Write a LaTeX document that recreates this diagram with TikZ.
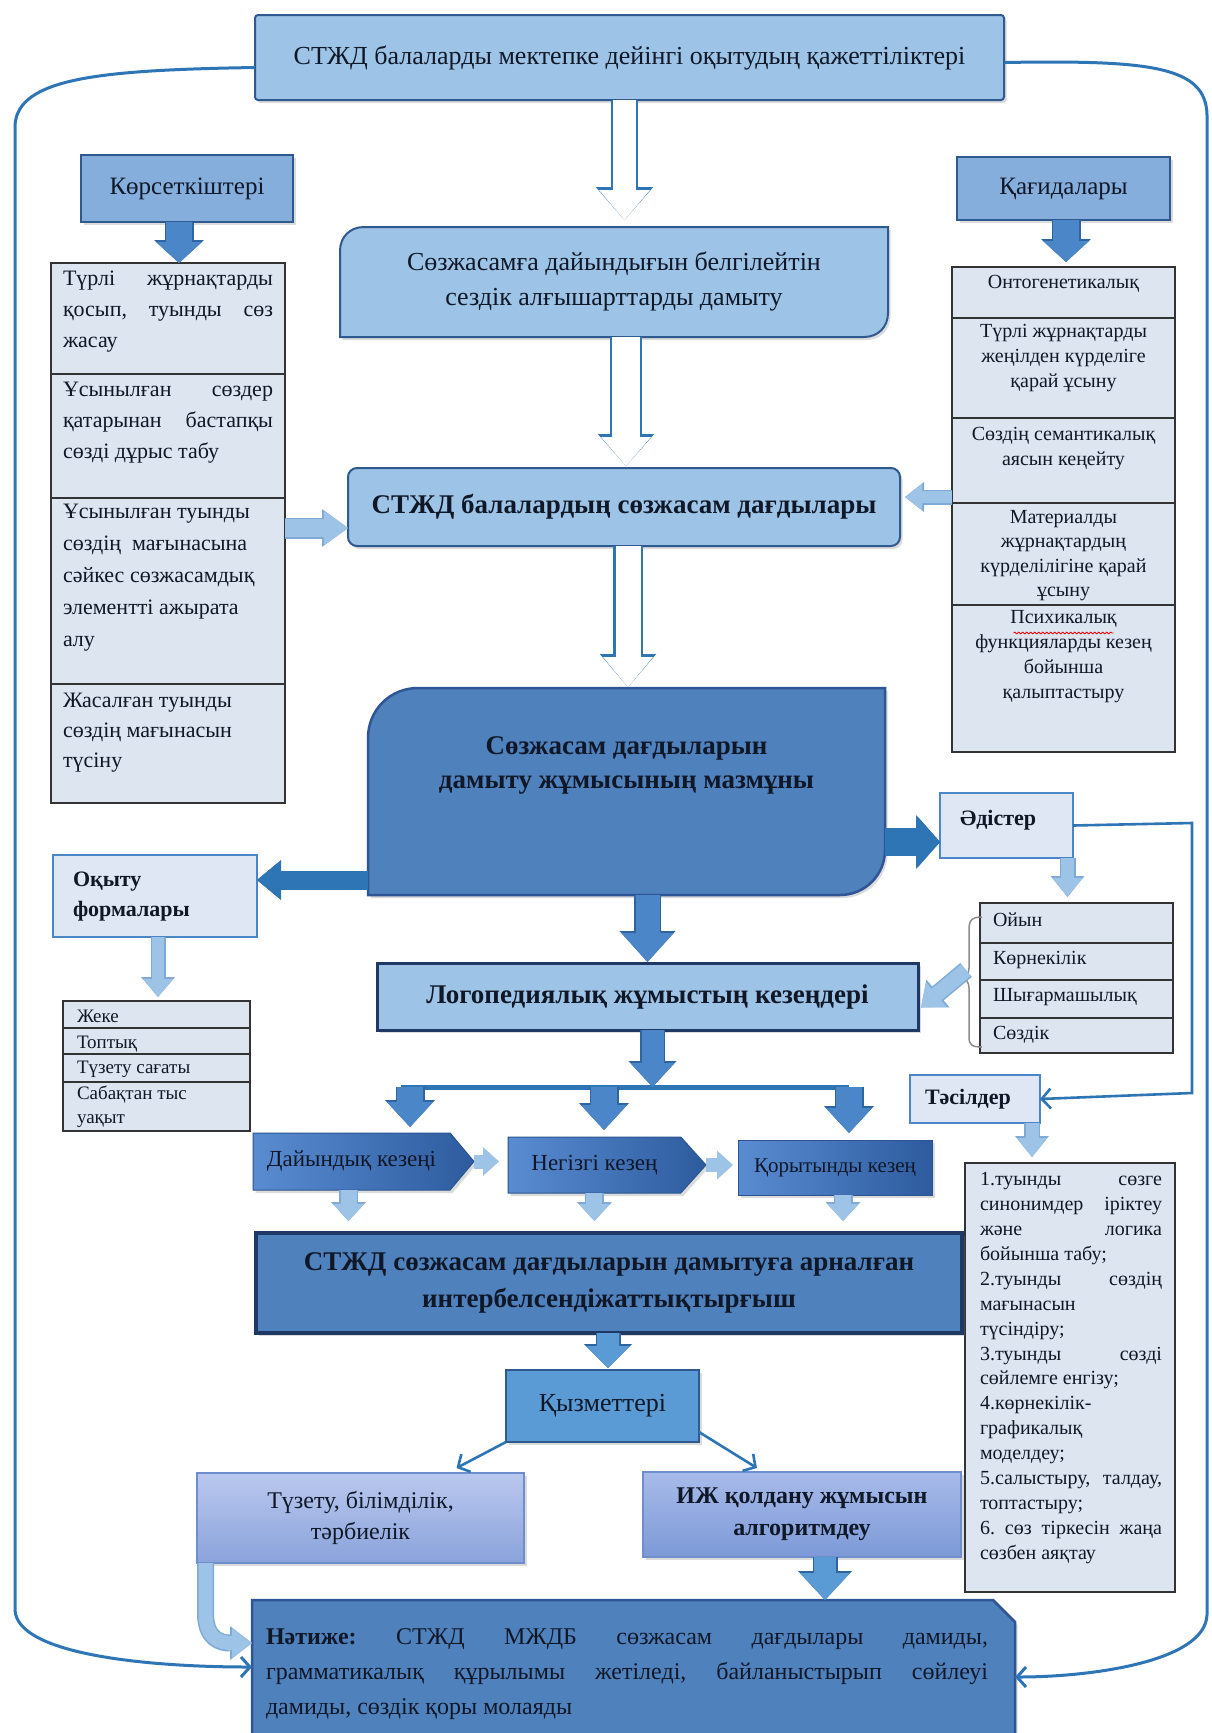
\documentclass[tikz,border=0pt]{standalone}
\usepackage{fontspec}
\setmainfont{Liberation Serif}
\usetikzlibrary{arrows.meta,shapes.symbols,shadows,calc,decorations.pathmorphing}
\definecolor{cTop}{HTML}{9DC3E6}
\definecolor{cTopB}{HTML}{2F5A8F}
\definecolor{cLab}{HTML}{85AEDD}
\definecolor{cList}{HTML}{DCE5F0}
\definecolor{cPale}{HTML}{DEE7F3}
\definecolor{cPaleB}{HTML}{4A86C8}
\definecolor{cMain}{HTML}{4F81BD}
\definecolor{cMainB}{HTML}{2F5597}
\definecolor{cMed}{HTML}{4A86C8}
\definecolor{cMedB}{HTML}{2E64A0}
\definecolor{cLight}{HTML}{9DC3E6}
\definecolor{cLightB}{HTML}{7FAAD6}
\definecolor{cLine}{HTML}{2E75B6}
\definecolor{cDark}{HTML}{1F3864}
\definecolor{cTxt}{HTML}{101828}
\definecolor{cKyz}{HTML}{5B9BD5}
\definecolor{stL}{HTML}{5A8CD2}
\definecolor{stR}{HTML}{2D5B9E}
\definecolor{stB}{HTML}{2A5590}
\definecolor{tzT}{HTML}{BAC8EE}
\definecolor{tzB}{HTML}{8AA3DB}
\definecolor{tzD}{HTML}{6F8FCC}
\definecolor{izT}{HTML}{A8BBEA}
\definecolor{izB}{HTML}{7C99D6}
\newcommand{\myfs}[2]{\fontsize{#1}{#2}\selectfont}
\newcommand{\jl}[1]{\hbox to 210pt{#1}}
\newcommand{\jt}[1]{\hbox to 182pt{#1}}
\newcommand{\jr}[1]{\hbox to 722pt{#1}}
\newcommand{\blkarrow}[7]{%
 \pgfmathsetlengthmacro{\baA}{#3+3pt}%
 \pgfmathsetlengthmacro{\baB}{#4+4pt}%
 \pgfmathsetlengthmacro{\baC}{#5+2pt}%
 \draw[draw=#2,line width=\baA,-{Triangle[width=\baB,length=\baC,line width=0pt]}] #6 -- #7;
 \draw[draw=#1,line width=#3,-{Triangle[width=#4,length=#5,line width=0pt]}] #6 -- #7;}
\newcommand{\hollowarrow}[5]{%
 \pgfmathsetlengthmacro{\baA}{#1+4.5pt}%
 \pgfmathsetlengthmacro{\baB}{#2+6.5pt}%
 \pgfmathsetlengthmacro{\baC}{#3+3pt}%
 \draw[draw=cLine,line width=\baA,-{Triangle[width=\baB,length=\baC,line width=0pt]}] #4 -- #5;
 \draw[draw=white,line width=#1,-{Triangle[width=#2,length=#3,line width=0pt]}] #4 -- #5;}
\begin{document}
\begin{tikzpicture}[x=1pt,y=-1pt,
  every node/.style={inner sep=0pt,outer sep=0pt,text=cTxt},
  shd/.style={drop shadow={opacity=0.28,shadow xshift=2.5pt,shadow yshift=-3pt}},
  box/.style={rectangle,anchor=north west},
  topbox/.style={box,fill=cTop,draw=cTopB,line width=2pt,shd},
  labbox/.style={box,fill=cLab,draw=cTopB,line width=2pt,shd},
  cell/.style={box,fill=cList,draw=black!80,line width=1.8pt},
  pale/.style={box,fill=cPale,draw=cPaleB,line width=2.4pt},
  ctext/.style={align=center,anchor=north},
  ltext/.style={align=left,anchor=north west},
  stage/.style={signal,signal to=east,left color=stL,right color=stR,draw=stB,line width=1pt,shd,anchor=west,font=\myfs{23}{26}},
  outer/.style={draw=cLine,line width=3pt,-{Straight Barb[length=9pt,width=20pt]}},
  thinarr/.style={draw=cLine,line width=2.6pt,-{Straight Barb[length=9pt,width=20pt]}},
]
\useasboundingbox (0,0) rectangle (1211,1733);
\clip (0,0) rectangle (1211,1733);
\fill[white] (0,0) rectangle (1211,1733);

% ---------- top ----------
\node[topbox,rounded corners=3pt,minimum width=749pt,minimum height=85pt,font=\myfs{26}{30}] (top) at (255,15) {СТЖД балаларды мектепке дейінгі оқытудың қажеттіліктері};
\node[labbox,minimum width=212pt,minimum height=67pt,font=\myfs{25}{28}] (kors) at (81,155) {Көрсеткіштері};
\node[labbox,minimum width=213pt,minimum height=63pt,font=\myfs{25}{28}] (kag) at (957,157) {Қағидалары};

% ---------- box 2 ----------
\node[box,minimum width=548pt,minimum height=110pt] (b2) at (340,227) {};
\filldraw[fill=cTop,draw=cTopB,line width=2pt,shd] ($(b2.north west)+(0,24)$) .. controls ($(b2.north west)+(0,10)$) and ($(b2.north west)+(10,0)$) .. ($(b2.north west)+(24,0)$) -- (b2.north east) -- ($(b2.south east)+(0,-24)$) .. controls ($(b2.south east)+(0,-10)$) and ($(b2.south east)+(-10,0)$) .. ($(b2.south east)+(-24,0)$) -- (b2.south west) -- cycle;
\node[font=\myfs{26}{35},align=center] (b2t) at ($(b2.center)+(0,-1)$) {Сөзжасамға дайындығын белгілейтін\\сездік алғышарттарды дамыту};

% ---------- box 3 ----------
\node[topbox,rounded corners=9pt,minimum width=552pt,minimum height=78pt,font=\bfseries\myfs{27}{30}] (b3) at (348,468) {СТЖД балалардың сөзжасам дағдылары};

% ---------- left list ----------
\node[cell,minimum width=234pt,minimum height=111pt] (L1) at (51,263) {};
\node[cell,minimum width=234pt,minimum height=124pt] (L2) at (51,374) {};
\node[cell,minimum width=234pt,minimum height=186pt] (L3) at (51,498) {};
\node[cell,minimum width=234pt,minimum height=119pt] (L4) at (51,684) {};
\node[ltext,font=\myfs{22}{31}] (L1t) at ($(L1.north west)+(12,8)$) {\jl{Түрлі\hfill жұрнақтарды}\\\jl{қосып,\hfill туынды\hfill сөз}\\жасау};
\node[ltext,font=\myfs{22}{31}] (L2t) at ($(L2.north west)+(12,8)$) {\jl{Ұсынылған\hfill сөздер}\\\jl{қатарынан\hfill бастапқы}\\сөзді дұрыс табу};
\node[ltext,font=\myfs{22}{32}] (L3t) at ($(L3.north west)+(12,6)$) {Ұсынылған туынды\\сөздің\ \ мағынасына\\сәйкес сөзжасамдық\\элементті ажырата\\алу};
\node[ltext,font=\myfs{22}{30}] (L4t) at ($(L4.north west)+(12,9)$) {Жасалған туынды\\сөздің мағынасын\\түсіну};

% ---------- right list ----------
\node[cell,minimum width=223pt,minimum height=51pt] (R1) at (952,267) {};
\node[cell,minimum width=223pt,minimum height=100pt] (R2) at (952,318) {};
\node[cell,minimum width=223pt,minimum height=85pt] (R3) at (952,418) {};
\node[cell,minimum width=223pt,minimum height=102pt] (R4) at (952,503) {};
\node[cell,minimum width=223pt,minimum height=147pt] (R5) at (952,605) {};
\node[ctext,font=\myfs{20}{25}] (R1t) at ($(R1.north)+(0,8)$) {Онтогенетикалық};
\node[ctext,font=\myfs{20}{25}] (R2t) at ($(R2.north)+(0,6)$) {Түрлі жұрнақтарды\\жеңілден күрделіге\\қарай ұсыну};
\node[ctext,font=\myfs{20}{25}] (R3t) at ($(R3.north)+(0,9)$) {Сөздің семантикалық\\аясын кеңейту};
\node[ctext,font=\myfs{20}{24.5}] (R4t) at ($(R4.north)+(0,7)$) {Материалды\\жұрнақтардың\\күрделілігіне қарай\\ұсыну};
\node[ctext,font=\myfs{20}{25}] (R5t) at ($(R5.north)+(0,5)$) {Психикалық\\функцияларды кезең\\бойынша\\қалыптастыру};
\draw[red,line width=0.8pt,decorate,decoration={snake,amplitude=0.9pt,segment length=4pt}] ($(R5t.north)+(-50,23)$) -- ($(R5t.north)+(50,23)$);

% ---------- main box ----------
\node[box,minimum width=517pt,minimum height=207pt] (mb) at (368,688) {};
\filldraw[fill=cMain,draw=cMainB,line width=2.5pt,shd] ($(mb.north west)+(0,50)$) .. controls ($(mb.north west)+(0,22)$) and ($(mb.north west)+(22,0)$) .. ($(mb.north west)+(50,0)$) -- (mb.north east) -- ($(mb.south east)+(0,-45)$) .. controls ($(mb.south east)+(0,-20)$) and ($(mb.south east)+(-20,0)$) .. ($(mb.south east)+(-45,0)$) -- (mb.south west) -- cycle;
\node[font=\bfseries\myfs{27}{34},align=center] (mbt) at ($(mb.north)+(0,77)$) {Сөзжасам дағдыларын\\дамыту жұмысының мазмұны};

% ---------- methods ----------
\node[pale,minimum width=133pt,minimum height=65pt] (ad) at (940,793) {};
\node[anchor=west,font=\bfseries\myfs{22}{26}] (adt) at ($(ad.west)+(20,-5)$) {Әдістер};
\node[cell,minimum width=193pt,minimum height=40pt] (M1) at (980,903) {};
\node[cell,minimum width=193pt,minimum height=37pt] (M2) at (980,943) {};
\node[cell,minimum width=193pt,minimum height=38pt] (M3) at (980,980) {};
\node[cell,minimum width=193pt,minimum height=35pt] (M4) at (980,1018) {};
\node[anchor=base west,font=\myfs{20}{25}] (M1t) at (993,926) {Ойын};
\node[anchor=base west,font=\myfs{20}{25}] (M2t) at (993,964) {Көрнекілік};
\node[anchor=base west,font=\myfs{20}{25}] (M3t) at (993,1001) {Шығармашылық};
\node[anchor=base west,font=\myfs{20}{25}] (M4t) at (993,1039) {Сөздік};
\draw[black!45,line width=1.5pt] (982,917) .. controls (972,917) and (969,920) .. (969,930) -- (969,968) .. controls (969,974) and (966,977) .. (962,978) .. controls (966,979) and (969,982) .. (969,988) -- (969,1037) .. controls (969,1045) and (972,1047) .. (982,1047);
\coordinate (brc) at (966,970);

% ---------- forms ----------
\node[pale,minimum width=204pt,minimum height=82pt] (ok) at (53,855) {};
\node[ltext,font=\bfseries\myfs{22}{30}] (okt) at (73,872) {Оқыту\\формалары};
\node[cell,minimum width=187pt,minimum height=27pt] (F1) at (63,1001) {};
\node[cell,minimum width=187pt,minimum height=26pt] (F2) at (63,1028) {};
\node[cell,minimum width=187pt,minimum height=28pt] (F3) at (63,1054) {};
\node[cell,minimum width=187pt,minimum height=49pt] (F4) at (63,1082) {};
\node[anchor=base west,font=\myfs{19}{24}] (F1t) at (77,1022) {Жеке};
\node[anchor=base west,font=\myfs{19}{24}] (F2t) at (77,1048) {Топтық};
\node[anchor=base west,font=\myfs{19}{24}] (F3t) at (77,1073) {Түзету сағаты};
\node[ltext,font=\myfs{19}{24}] (F4t) at (77,1086) {Сабақтан тыс\\уақыт};

% ---------- logoped ----------
\node[box,fill=cTop,draw=cDark,line width=3pt,shd,minimum width=541pt,minimum height=67pt,font=\bfseries\myfs{27}{30}] (logo) at (377,963) {Логопедиялық жұмыстың кезеңдері};

% ---------- stages ----------
\coordinate (barL) at (401,1087);
\coordinate (barM) at (604,1087);
\coordinate (barR) at (849,1087);
\draw[cLine,line width=5pt] (barL) -- (barR);
\node[stage,minimum width=221pt,minimum height=57pt,signal pointer angle=100] (s1) at (253,1161.5) {Дайындық кезеңі};
\node[stage,minimum width=198pt,minimum height=56pt,signal pointer angle=96] (s2) at (508,1165) {Негізгі кезең};
\node[box,left color=stL,right color=stR,draw=stB,line width=1pt,shd,minimum width=194pt,minimum height=55pt,font=\myfs{21}{24}] (s3) at (738,1140) {Қорытынды кезең};

% ---------- tasilder ----------
\node[pale,minimum width=130pt,minimum height=48pt] (ts) at (910,1075) {};
\node[anchor=west,font=\bfseries\myfs{22}{26}] (tst) at ($(ts.west)+(15,0)$) {Тәсілдер};
\node[cell,minimum width=210pt,minimum height=429pt] (T) at (965,1163) {};
\node[ltext,font=\myfs{20}{24.9}] (Tt) at (980,1172.5) {\jt{1.туынды\hfill сөзге}\\\jt{синонимдер\hfill іріктеу}\\\jt{және\hfill логика}\\бойынша табу;\\\jt{2.туынды\hfill сөздің}\\мағынасын\\түсіндіру;\\\jt{3.туынды\hfill сөзді}\\сөйлемге енгізу;\\4.көрнекілік-\\графикалық\\моделдеу;\\\jt{5.салыстыру,\hfill талдау,}\\топтастыру;\\\jt{6.\hfill сөз\hfill тіркесін\hfill жаңа}\\сөзбен аяқтау};

% ---------- interactive ----------
\node[box,fill=cMain,draw=cDark,line width=3.5pt,shd,minimum width=706pt,minimum height=100pt,font=\bfseries\myfs{27}{37},align=center] (ia) at (256,1233) {СТЖД сөзжасам дағдыларын дамытуға арналған\\интербелсендіжаттықтырғыш};

% ---------- functions ----------
\node[box,fill=cKyz,draw=cTopB,line width=2pt,shd,minimum width=193pt,minimum height=72pt,font=\myfs{26}{30}] (kyz) at (506,1370) {Қызметтері};
\node[box,top color=tzT,bottom color=tzB,draw=tzD,line width=1.5pt,shd,minimum width=327pt,minimum height=90pt,font=\myfs{24}{31},align=center] (tz) at (197,1473) {Түзету, білімділік,\\тәрбиелік};
\node[box,top color=izT,bottom color=izB,draw=tzD,line width=1.5pt,shd,minimum width=318pt,minimum height=85pt,font=\bfseries\myfs{24}{32},align=center] (iz) at (643,1472) {ИЖ қолдану жұмысын\\алгоритмдеу};

% ---------- result ----------
\node[box,minimum width=763pt,minimum height=140pt] (res) at (252,1600) {};
\filldraw[fill=cMain,draw=cMainB,line width=2.5pt,shd] (res.south west) -- (res.north west) -- ($(res.north east)+(-22,0)$) -- ($(res.north east)+(0,22)$) -- (res.south east) -- cycle;
\node[ltext,font=\myfs{24}{35}] (rest) at (266,1629) {\jr{\textbf{Нәтиже:}\hfill СТЖД\hfill МЖДБ\hfill сөзжасам\hfill дағдылары\hfill дамиды,}\\\jr{грамматикалық\hfill құрылымы\hfill жетіледі,\hfill байланыстырып\hfill сөйлеуі}\\дамиды, сөздік қоры молаяды};

% ---------- block arrows ----------
\hollowarrow{23pt}{51pt}{30pt}{($(top.south)+(-5,0)$)}{($(top.south |- b2.north)+(-5,-7)$)}
\hollowarrow{28pt}{50pt}{29pt}{($(b2.south)+(12,0)$)}{($(b2.south |- b3.north)+(12,-2)$)}
\hollowarrow{25pt}{50pt}{30pt}{($(b3.south)+(4,0)$)}{($(b3.south |- mb.north)+(4,-1)$)}
\blkarrow{cMed}{cMedB}{26pt}{46pt}{21pt}{($(kors.south)+(-8,0)$)}{($(kors.south |- L1.north)+(-8,0)$)}
\blkarrow{cMed}{cMedB}{26pt}{46pt}{21pt}{($(kag.south)+(2.5,0)$)}{($(kag.south |- R1.north)+(2.5,-5)$)}
\coordinate (yl) at (0,528);
\coordinate (yr) at (0,497);
\blkarrow{cLight}{cLightB}{18pt}{34pt}{24pt}{(L3.east |- yl)}{(b3.west |- yl)}
\blkarrow{cLight}{cLightB}{12pt}{26pt}{17pt}{(R3.west |- yr)}{($(b3.east |- yr)+(5,0)$)}
\coordinate (yo) at (0,880);
\coordinate (ya) at (0,842);
\blkarrow{cLine}{cLine}{16pt}{36pt}{22pt}{(mb.west |- yo)}{(ok.east |- yo)}
\blkarrow{cLine}{cLine}{25pt}{50pt}{22pt}{(mb.east |- ya)}{(ad.west |- ya)}
\blkarrow{cMed}{cMedB}{24pt}{52pt}{29pt}{($(mb.south)+(21,0)$)}{($(mb.south |- logo.north)+(21,-1)$)}
\blkarrow{cLight}{cLightB}{13pt}{30pt}{19pt}{($(ad.south)+(61,0)$)}{($(ad.south |- M1.north)+(61,-6)$)}
\blkarrow{cLight}{cLightB}{15pt}{32pt}{20pt}{(brc)}{($(logo.east)+(3,11)$)}
\blkarrow{cLight}{cLightB}{12pt}{30pt}{18pt}{($(ok.south)+(3,0)$)}{($(ok.south |- F1.north)+(3,-4)$)}
\blkarrow{cLight}{cLightB}{13pt}{30pt}{19pt}{($(ts.south)+(57,0)$)}{($(ts.south |- T.north)+(57,-6)$)}
\blkarrow{cMed}{cMedB}{22pt}{44pt}{24pt}{($(logo.south)+(5,0)$)}{($(logo.south |- barL)+(5,0)$)}
\blkarrow{cMed}{cMedB}{26pt}{46pt}{25pt}{($(barL)+(9,0)$)}{($(barL |- s1.north)+(9,-6)$)}
\blkarrow{cMed}{cMedB}{26pt}{46pt}{25pt}{(barM)}{($(barM |- s2.north)+(0,-7)$)}
\blkarrow{cMed}{cMedB}{26pt}{46pt}{25pt}{(barR)}{($(barR |- s3.north)+(0,-7)$)}
\blkarrow{cLight}{white}{14pt}{29pt}{16pt}{(s1.east)}{($(s2.west |- s1.east)+(-9,0)$)}
\blkarrow{cLight}{white}{14pt}{29pt}{16pt}{(s2.east)}{($(s3.west |- s2.east)+(-5,0)$)}
\blkarrow{cLight}{cLightB}{16pt}{31pt}{17pt}{($(s1.south)+(-3,0)$)}{($(s1.south |- ia.north)+(-3,-12)$)}
\blkarrow{cLight}{cLightB}{16pt}{31pt}{17pt}{(s2.south)}{($(s2.south |- ia.north)+(0,-12)$)}
\blkarrow{cLight}{cLightB}{16pt}{31pt}{17pt}{($(s3.south)+(8,0)$)}{($(s3.south |- ia.north)+(8,-12)$)}
\blkarrow{cKyz}{cMedB}{22pt}{44pt}{22pt}{($(ia.south)+(-1,0)$)}{($(ia.south |- kyz.north)+(-1,-2)$)}
\blkarrow{cKyz}{cMedB}{22pt}{50pt}{27pt}{($(iz.south)+(23,0)$)}{($(iz.south |- res.north)+(23,0)$)}
% curved light arrow from tz to result
\draw[draw=cLightB,line width=17pt,-{Triangle[width=34pt,length=22pt,line width=0pt]}] ($(tz.south)+(-155,0)$) -- ($(tz.south)+(-155,50)$) .. controls ($(tz.south)+(-155,76)$) and ($(tz.south)+(-140,80)$) .. ($(res.west)+(0,-27)$);
\draw[draw=cLight,line width=14pt,-{Triangle[width=30pt,length=20pt,line width=0pt]}] ($(tz.south)+(-155,0)$) -- ($(tz.south)+(-155,50)$) .. controls ($(tz.south)+(-155,76)$) and ($(tz.south)+(-140,80)$) .. ($(res.west)+(0,-27)$);

% ---------- thin arrows ----------
\draw[thinarr] (ad.east) -- (1192,823) -- (1192,1093) -- (ts.east);
\draw[thinarr] (kyz.south west) -- ($(tz.north)+(96,-5)$);
\draw[thinarr] ($(kyz.south east)+(0,-10)$) -- ($(iz.north)+(-45,-4)$);

% ---------- outer loops ----------
\draw[outer] ($(top.west)+(0,10)$) .. controls (100,70) and (18,78) .. (15,125) -- (15,1610) .. controls (17,1655) and (150,1667) .. ($(res.west)+(0,-3)$);
\draw[outer] ($(top.east)+(0,5)$) .. controls (1150,60) and (1206,66) .. (1207,115) -- (1207,1615) .. controls (1205,1662) and (1090,1677) .. ($(res.east)+(0,7)$);
\end{tikzpicture}
\end{document}
